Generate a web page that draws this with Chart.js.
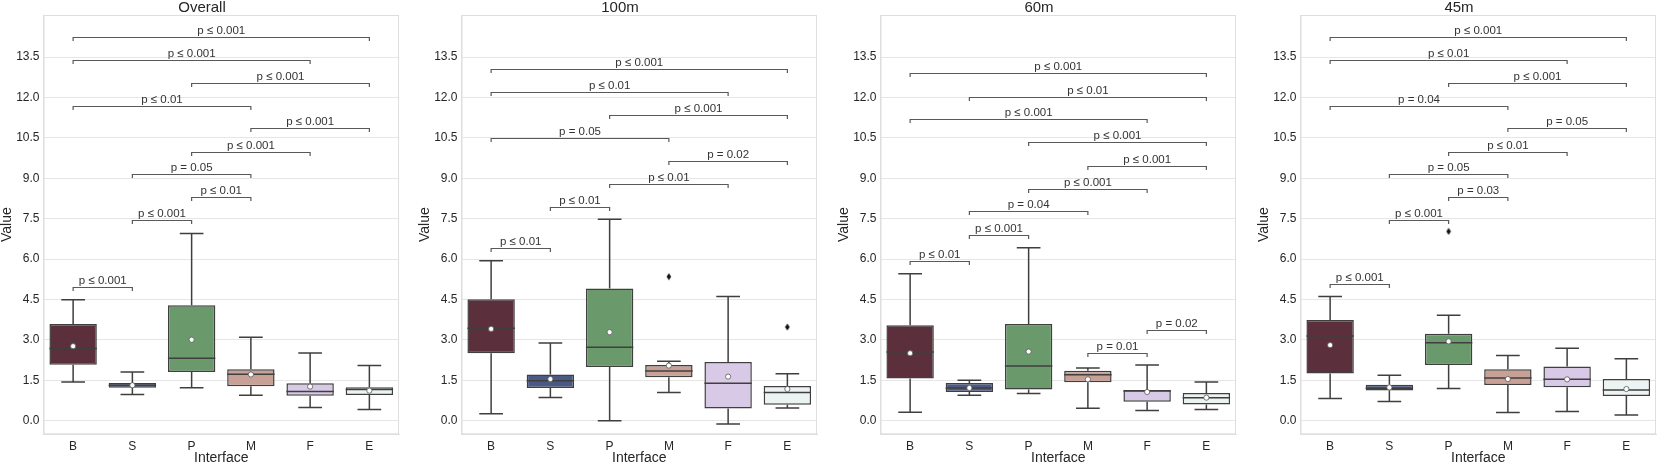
<!DOCTYPE html>
<html>
<head>
<meta charset="utf-8">
<script src="https://cdn.jsdelivr.net/npm/chart.js@4.4.1/dist/chart.umd.min.js"></script>
<style>
  html, body { margin: 0; padding: 0; background: #fff; overflow: hidden; }
  .panel { position: absolute; top: 0; }
</style>
</head>
<body>
<div class="panel" style="left:0px"><canvas id="c0" width="404" height="465"></canvas></div>
<div class="panel" style="left:418px"><canvas id="c1" width="404" height="465"></canvas></div>
<div class="panel" style="left:837px"><canvas id="c2" width="404" height="465"></canvas></div>
<div class="panel" style="left:1257px"><canvas id="c3" width="404" height="465"></canvas></div>
<script>
// categories and panels
const interfaces = ['B', 'S', 'P', 'M', 'F', 'E'];
const panelTitles = ['Overall', '100m', '60m', '45m'];
const yTicks = [0, 1.5, 3, 4.5, 6, 7.5, 9, 10.5, 12, 13.5];
const boxColors = ['#5c2f3c', '#4a5a85', '#6a9a6b', '#c8a096', '#d8c9e6', '#ebf4f2'];

// box stats, one row per panel (Overall, 100m, 60m, 45m)
const whiskerLow = [
  [1.44, 0.98, 1.23, 0.95, 0.49, 0.42],
  [0.26, 0.87, 0.00, 1.05, -0.12, 0.48],
  [0.32, 0.95, 1.01, 0.47, 0.38, 0.42],
  [0.83, 0.72, 1.20, 0.31, 0.35, 0.22]
];
const q1 = [
  [2.08, 1.23, 1.81, 1.28, 0.93, 0.96],
  [2.51, 1.22, 2.00, 1.62, 0.46, 0.60],
  [1.57, 1.07, 1.16, 1.43, 0.71, 0.61],
  [1.76, 1.13, 2.07, 1.33, 1.25, 0.92]
];
const medians = [
  [2.68, 1.32, 2.32, 1.73, 1.09, 1.16],
  [3.44, 1.49, 2.73, 1.85, 1.39, 1.05],
  [2.55, 1.22, 2.03, 1.71, 1.11, 0.86],
  [3.15, 1.21, 2.90, 1.59, 1.54, 1.14]
];
const q3 = [
  [3.59, 1.40, 4.29, 1.91, 1.39, 1.25],
  [4.51, 1.72, 4.91, 2.07, 2.18, 1.29],
  [3.55, 1.40, 3.59, 1.86, 1.14, 1.03],
  [3.74, 1.34, 3.23, 1.91, 2.02, 1.55]
];
const whiskerHigh = [
  [4.49, 1.81, 6.95, 3.10, 2.52, 2.05],
  [5.94, 2.89, 7.48, 2.21, 4.61, 1.75],
  [5.46, 1.51, 6.42, 1.96, 2.07, 1.44],
  [4.61, 1.69, 3.92, 2.42, 2.69, 2.30]
];
const means = [
  [2.77, 1.32, 3.01, 1.72, 1.27, 1.12],
  [3.41, 1.55, 3.29, 2.05, 1.64, 1.18],
  [2.51, 1.22, 2.57, 1.54, 1.07, 0.86],
  [2.81, 1.24, 2.95, 1.55, 1.54, 1.18]
];
const outliers = [
  [null, null, null, null, null, null],
  [null, null, null, 5.35, null, 3.48],
  [null, null, null, null, null, null],
  [null, null, 7.03, null, null, null]
];

// significance brackets: [from, to, height, label]
const bracketsOverall = [
  ['B', 'E', 14.23, 'p ≤ 0.001'], ['B', 'F', 13.39, 'p ≤ 0.001'], ['P', 'E', 12.55, 'p ≤ 0.001'],
  ['B', 'M', 11.70, 'p ≤ 0.01'], ['M', 'E', 10.86, 'p ≤ 0.001'], ['P', 'F', 9.99, 'p ≤ 0.001'],
  ['S', 'M', 9.15, 'p = 0.05'], ['P', 'M', 8.30, 'p ≤ 0.01'], ['S', 'P', 7.46, 'p ≤ 0.001'],
  ['B', 'S', 4.96, 'p ≤ 0.001']
];
const brackets100m = [
  ['B', 'E', 13.05, 'p ≤ 0.001'], ['B', 'F', 12.21, 'p ≤ 0.01'], ['P', 'E', 11.35, 'p ≤ 0.001'],
  ['B', 'M', 10.51, 'p = 0.05'], ['M', 'E', 9.64, 'p = 0.02'], ['P', 'F', 8.80, 'p ≤ 0.01'],
  ['S', 'P', 7.94, 'p ≤ 0.01'], ['B', 'S', 6.40, 'p ≤ 0.01']
];
const brackets60m = [
  ['B', 'E', 12.90, 'p ≤ 0.001'], ['S', 'E', 12.03, 'p ≤ 0.01'], ['B', 'F', 11.19, 'p ≤ 0.001'],
  ['P', 'E', 10.33, 'p ≤ 0.001'], ['M', 'E', 9.47, 'p ≤ 0.001'], ['P', 'F', 8.62, 'p ≤ 0.001'],
  ['S', 'M', 7.77, 'p = 0.04'], ['S', 'P', 6.91, 'p ≤ 0.001'], ['B', 'S', 5.92, 'p ≤ 0.01'],
  ['F', 'E', 3.38, 'p = 0.02'], ['M', 'F', 2.52, 'p = 0.01']
];
const brackets45m = [
  ['B', 'E', 14.23, 'p ≤ 0.001'], ['B', 'F', 13.39, 'p ≤ 0.01'], ['P', 'E', 12.55, 'p ≤ 0.001'],
  ['B', 'M', 11.70, 'p = 0.04'], ['M', 'E', 10.86, 'p = 0.05'], ['P', 'F', 9.99, 'p ≤ 0.01'],
  ['S', 'M', 9.15, 'p = 0.05'], ['P', 'M', 8.30, 'p = 0.03'], ['S', 'P', 7.46, 'p ≤ 0.001'],
  ['B', 'S', 5.08, 'p ≤ 0.001']
];
const panelBrackets = [bracketsOverall, brackets100m, brackets60m, brackets45m];

const edgeColor = '#3f3f3f';
const textColor = '#262626';
const fontFamily = '"Liberation Sans", Arial, sans-serif';
Chart.defaults.font.family = fontFamily;

// thin black diamond for fliers
const diamond = document.createElement('canvas');
diamond.width = 6; diamond.height = 8;
(function () {
  const d = diamond.getContext('2d');
  d.fillStyle = '#111';
  d.beginPath();
  d.moveTo(3, 0.5); d.lineTo(5.3, 4); d.lineTo(3, 7.5); d.lineTo(0.7, 4);
  d.closePath(); d.fill();
})();

// whiskers, caps and medians drawn right after the boxes
const boxParts = {
  id: 'boxParts',
  afterDatasetDraw(chart, args) {
    if (args.meta.type !== 'bar') return;
    const p = chart.options.plugins.boxParts.panel;
    const ctx = chart.ctx;
    const y = chart.scales.y;
    ctx.save();
    ctx.strokeStyle = edgeColor;
    ctx.lineWidth = 1.5;
    args.meta.data.forEach((bar, i) => {
      const x = bar.x;
      const half = bar.width / 2;
      const cap = bar.width / 4;
      const yLow = y.getPixelForValue(whiskerLow[p][i]);
      const yHigh = y.getPixelForValue(whiskerHigh[p][i]);
      const yQ1 = y.getPixelForValue(q1[p][i]);
      const yQ3 = y.getPixelForValue(q3[p][i]);
      const yMed = y.getPixelForValue(medians[p][i]);
      ctx.beginPath();
      ctx.moveTo(x, yQ3); ctx.lineTo(x, yHigh);
      ctx.moveTo(x - cap, yHigh); ctx.lineTo(x + cap, yHigh);
      ctx.moveTo(x, yQ1); ctx.lineTo(x, yLow);
      ctx.moveTo(x - cap, yLow); ctx.lineTo(x + cap, yLow);
      ctx.moveTo(x - half, yMed); ctx.lineTo(x + half, yMed);
      ctx.stroke();
    });
    ctx.restore();
  }
};

// light frame round the plot area
const frame = {
  id: 'frame',
  beforeDatasetsDraw(chart) {
    const a = chart.chartArea;
    const ctx = chart.ctx;
    ctx.save();
    ctx.strokeStyle = '#dedede';
    ctx.lineWidth = 1;
    ctx.strokeRect(a.left + 0.5, a.top + 0.5, a.right - a.left - 1, a.bottom - a.top - 1);
    ctx.restore();
  }
};

// significance brackets
const sigBrackets = {
  id: 'sigBrackets',
  afterDraw(chart) {
    const p = chart.options.plugins.sigBrackets.panel;
    const ctx = chart.ctx;
    const x = chart.scales.x, y = chart.scales.y;
    ctx.save();
    ctx.strokeStyle = '#595959';
    ctx.lineWidth = 1.2;
    ctx.fillStyle = '#333';
    ctx.font = '11.5px ' + fontFamily;
    ctx.textAlign = 'center';
    ctx.textBaseline = 'bottom';
    panelBrackets[p].forEach(([a, b, h, label]) => {
      const x1 = x.getPixelForValue(interfaces.indexOf(a));
      const x2 = x.getPixelForValue(interfaces.indexOf(b));
      const yy = Math.round(y.getPixelForValue(h)) + 0.5;
      ctx.beginPath();
      ctx.moveTo(x1, yy + 3.5); ctx.lineTo(x1, yy);
      ctx.lineTo(x2, yy); ctx.lineTo(x2, yy + 3.5);
      ctx.stroke();
      ctx.fillText(label, (x1 + x2) / 2, yy - 1);
    });
    ctx.restore();
  }
};

panelTitles.forEach((title, p) => {
  const ctx = document.getElementById('c' + p).getContext('2d');
  new Chart(ctx, {
    type: 'bar',
    data: {
      labels: interfaces,
      datasets: [
        {
          type: 'bar',
          label: 'box',
          data: q1[p].map((v, i) => [v, q3[p][i]]),
          backgroundColor: boxColors,
          borderColor: edgeColor,
          borderWidth: 1.5,
          borderSkipped: false,
          barPercentage: 0.8,
          categoryPercentage: 1,
          order: 3
        },
        {
          type: 'line',
          label: 'mean',
          data: means[p],
          showLine: false,
          pointRadius: 2.6,
          pointBackgroundColor: '#ffffff',
          pointBorderColor: '#555555',
          pointBorderWidth: 0.8,
          order: 2
        },
        {
          type: 'line',
          label: 'outliers',
          data: outliers[p],
          showLine: false,
          pointStyle: diamond,
          order: 1
        }
      ]
    },
    options: {
      responsive: false,
      animation: false,
      events: [],
      layout: { padding: 0 },
      plugins: {
        legend: { display: false },
        tooltip: { enabled: false },
        title: {
          display: true,
          text: title,
          color: textColor,
          font: { size: 15, weight: 'normal', lineHeight: 1 },
          padding: 0
        },
        boxParts: { panel: p },
        sigBrackets: { panel: p }
      },
      scales: {
        x: {
          grid: { display: false, drawTicks: false },
          border: { color: '#dedede' },
          ticks: { color: textColor, font: { size: 12 }, padding: 5 },
          title: {
            display: true, text: 'Interface', color: textColor,
            font: { size: 14, lineHeight: 1 }, padding: { top: 0, bottom: 0 }
          },
          afterFit(scale) { scale.height = 30.7; }
        },
        y: {
          min: -0.5,
          max: 15.06,
          afterBuildTicks(scale) { scale.ticks = yTicks.map(v => ({ value: v })); },
          grid: { color: '#e6e6e6', lineWidth: 1, drawTicks: false },
          border: { color: '#dedede' },
          ticks: {
            color: textColor, font: { size: 12 }, padding: 4,
            callback: v => Number(v).toFixed(1)
          },
          title: {
            display: true, text: 'Value', color: textColor,
            font: { size: 14, lineHeight: 1 }, padding: 0
          },
          afterFit(scale) { scale.width = 43.5; }
        }
      }
    },
    plugins: [frame, boxParts, sigBrackets]
  });
});
</script>
</body>
</html>
